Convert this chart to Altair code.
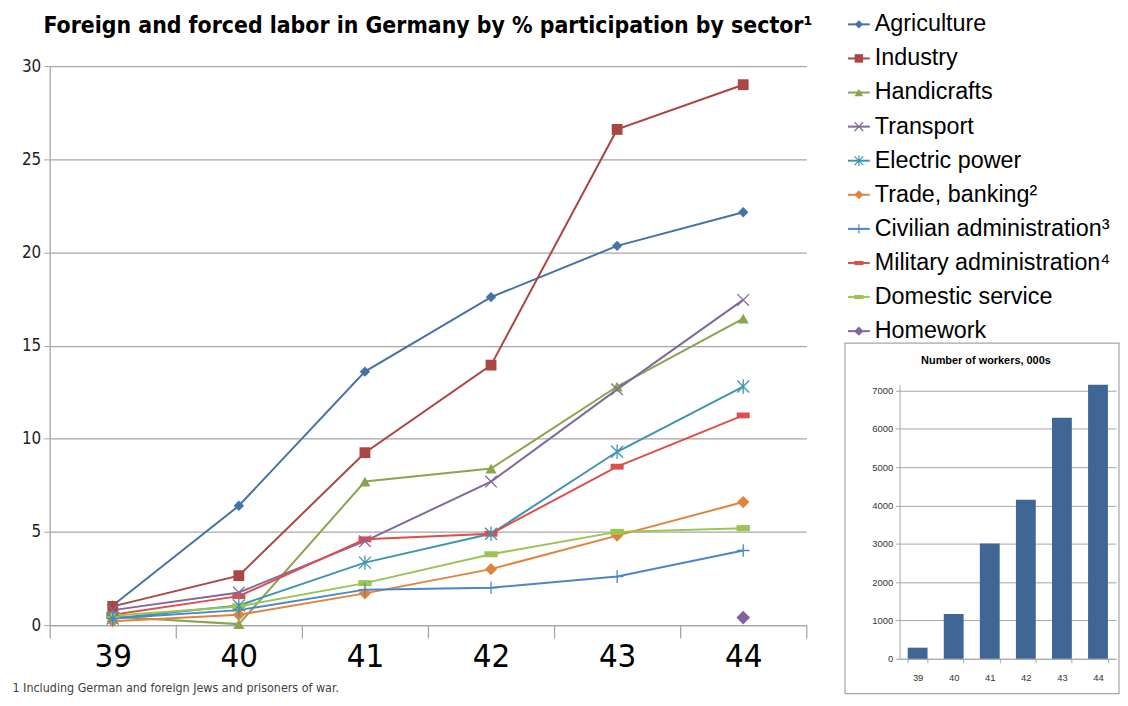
import altair as alt
import pandas as pd

NARROW = "Liberation Sans Narrow, Arial Narrow, DejaVu Sans Condensed, sans-serif"
SANS = "Liberation Sans, Arial, sans-serif"

years = ["39", "40", "41", "42", "43", "44"]
series = ["Agriculture", "Industry", "Handicrafts", "Transport", "Electric power",
          "Trade, banking", "Civilian administration", "Military administration",
          "Domestic service", "Homework"]
legend_labels = ["Agriculture", "Industry", "Handicrafts", "Transport", "Electric power",
                 "Trade, banking²", "Civilian administration³", "Military administration⁴",
                 "Domestic service", "Homework"]

agriculture = [1.05, 6.4, 13.6, 17.6, 20.35, 22.15]
industry = [1.0, 2.65, 9.25, 13.95, 26.6, 29.0]
handicrafts = [0.45, 0.05, 7.7, 8.4, 12.8, 16.45]
transport = [0.8, 1.75, 4.5, 7.7, 12.65, 17.45]
electric_power = [0.35, 1.05, 3.35, 4.9, 9.3, 12.8]
trade_banking = [0.2, 0.55, 1.7, 3.0, 4.8, 6.6]
civilian_admin = [0.35, 0.8, 1.9, 2.0, 2.6, 4.0]
military_admin = [0.55, 1.55, 4.6, 4.9, 8.5, 11.25]
domestic_service = [0.5, 1.0, 2.25, 3.8, 5.0, 5.2]
homework = [None, None, None, None, None, 0.4]

workers = [290, 1170, 3010, 4150, 6290, 7150]

footnote = "1 Including German and foreign Jews and prisoners of war."
title = "Foreign and forced labor in Germany by % participation by sector¹"
inset_title = "Number of workers, 000s"

# styles
colors = ["#4572A7", "#AA4643", "#89A54E", "#80699B", "#3D96AE",
          "#E0843D", "#4A86CC", "#D9504D", "#9BC450", "#8064A2"]
XPATH = "M-1,-1L1,1M-1,1L1,-1"
ASTER = "M-1,-1L1,1M-1,1L1,-1M0,-1.2L0,1.2"
PLUS = "M-1,0L1,0M0,-1L0,1"
DASH = "M-1,-0.45L1,-0.45L1,0.45L-1,0.45Z"
shapes = ["diamond", "square", "triangle-up", XPATH, ASTER,
          "diamond", PLUS, DASH, DASH, "diamond"]
sizes = [110, 190, 150, 120, 70, 45, 90, 75, 55, 40]
legend_sizes = [70, 90, 90, 110, 55, 40, 80, 55, 45, 40]
filled_series = ["Agriculture", "Industry", "Handicrafts", "Trade, banking",
                 "Military administration", "Domestic service", "Homework"]
stroked_series = ["Transport", "Electric power", "Civilian administration"]

all_values = [agriculture, industry, handicrafts, transport, electric_power,
              trade_banking, civilian_admin, military_admin, domestic_service, homework]

rows = []
for name, vals in zip(series, all_values):
    for yr, v in zip(years, vals):
        if v is not None:
            rows.append({"series": name, "year": yr, "value": v})
df = pd.DataFrame(rows)

color_enc = alt.Color("series:N", scale=alt.Scale(domain=series, range=colors), legend=None)
shape_enc = alt.Shape("series:N", scale=alt.Scale(domain=series, range=shapes), legend=None)
size_enc = alt.Size("series:O", sort=series, scale=alt.Scale(domain=series, range=sizes), legend=None)
leg_size_enc = alt.Size("lseries:O", sort=series,
                        scale=alt.Scale(domain=series, range=legend_sizes), legend=None)

GRID = "#a6a6a6"

# ---------------- main line chart ----------------
x_enc = alt.X(
    "year:O",
    sort=years,
    scale=alt.Scale(type="band", paddingInner=0, paddingOuter=0),
    axis=alt.Axis(
        tickBand="extent", labelFontSize=33, labelFont=NARROW, labelColor="black",
        labelAngle=0, tickSize=13, tickColor=GRID, domainColor=GRID, domainWidth=1.3,
        tickWidth=1.3, labelPadding=3, grid=False,
        title=footnote, titleX=-38, titleY=63, titleAlign="left", titleBaseline="middle",
        titleFontSize=12.5, titleFont=NARROW, titleFontWeight="normal", titleColor="#404040",
        titleAngle=0,
    ),
)
y_enc = alt.Y(
    "value:Q",
    scale=alt.Scale(domain=[0, 30], nice=False),
    axis=alt.Axis(
        values=[0, 5, 10, 15, 20, 25, 30], labelFontSize=17, labelFont=NARROW,
        labelColor="#222222", tickSize=6, tickColor=GRID, domainColor=GRID, domainWidth=1.3,
        gridColor=GRID, gridWidth=1.3, labelPadding=3, title=None,
    ),
)

base = alt.Chart(df)
lines = base.mark_line(strokeWidth=2).encode(x=x_enc, y=y_enc, color=color_enc)
pts_filled = base.transform_filter(
    alt.FieldOneOfPredicate(field="series", oneOf=filled_series)
).mark_point(filled=True, opacity=1, strokeWidth=0).encode(
    x=x_enc, y=y_enc, color=color_enc, shape=shape_enc, size=size_enc)
pts_stroked = base.transform_filter(
    alt.FieldOneOfPredicate(field="series", oneOf=stroked_series)
).mark_point(filled=False, opacity=1, strokeWidth=1.3).encode(
    x=x_enc, y=y_enc, color=color_enc, shape=shape_enc, size=size_enc)

main = alt.layer(lines, pts_filled, pts_stroked).properties(
    width=762, height=563,
    title=alt.TitleParams(title, fontSize=23, font=NARROW, fontWeight="bold",
                          color="black", anchor="middle", offset=19),
)

# ---------------- right panel: legend + inset bars ----------------
RH = 563 + 34          # panel height (same top as the main plot)
BAR_TOP = 321          # pixel of the inset's top (7150) inside the panel

leg_df = pd.DataFrame({"series": series, "lseries": series, "label": legend_labels})
y_leg = alt.Y("series:N", sort=series,
              scale=alt.Scale(type="point", range=[-42, 267], padding=0), axis=None)
leg_base = alt.Chart(leg_df)
leg_rule = leg_base.mark_rule(strokeWidth=2).encode(
    x=alt.value(-52), x2=alt.value(-30), y=y_leg, color=color_enc)
leg_pf = leg_base.transform_filter(
    alt.FieldOneOfPredicate(field="series", oneOf=filled_series)
).mark_point(filled=True, opacity=1, strokeWidth=0).encode(
    x=alt.value(-41), y=y_leg, color=color_enc, shape=shape_enc, size=leg_size_enc)
leg_ps = leg_base.transform_filter(
    alt.FieldOneOfPredicate(field="series", oneOf=stroked_series)
).mark_point(filled=False, opacity=1, strokeWidth=1.2).encode(
    x=alt.value(-41), y=y_leg, color=color_enc, shape=shape_enc, size=leg_size_enc)
leg_text = leg_base.mark_text(align="left", baseline="middle", fontSize=23.5, font=SANS,
                              color="black").encode(
    x=alt.value(-25), y=y_leg, text="label:N")
legend_layer = alt.layer(leg_rule, leg_pf, leg_ps, leg_text).resolve_scale(size="independent")

wdf = pd.DataFrame({"year": years, "workers": workers})
bars = alt.Chart(wdf).mark_bar(color="#406695").encode(
    x=alt.X("year:O", sort=years,
            scale=alt.Scale(type="band", paddingInner=0.45, paddingOuter=0.225),
            axis=alt.Axis(tickBand="extent", labelFontSize=9.5, labelFont=SANS,
                          labelColor="#333333", labelAngle=0, tickSize=4, tickColor=GRID,
                          domainColor=GRID, labelPadding=10, grid=False, title=None)),
    y=alt.Y("workers:Q",
            scale=alt.Scale(domain=[0, 7150], nice=False, range=[RH, BAR_TOP]),
            axis=alt.Axis(values=[0, 1000, 2000, 3000, 4000, 5000, 6000, 7000], format="d",
                          labelFontSize=9.5, labelFont=SANS, labelColor="#333333",
                          tickSize=4, tickColor=GRID, domainColor=GRID, gridColor=GRID,
                          labelPadding=3, title=None)),
)
frame = alt.Chart(pd.DataFrame({"k": [0]})).mark_rect(
    fillOpacity=0, stroke="#a6a6a6", strokeWidth=1.2).encode(
    x=alt.value(-55), x2=alt.value(221), y=alt.value(BAR_TOP - 42), y2=alt.value(BAR_TOP + 311))
inset_title_layer = alt.Chart(pd.DataFrame({"t": [inset_title]})).mark_text(
    fontSize=11, font=SANS, fontWeight="bold", color="black", align="center",
    baseline="middle").encode(
    text="t:N", x=alt.value(87), y=alt.value(BAR_TOP - 24))

right = alt.layer(frame, bars, inset_title_layer, legend_layer).resolve_scale(
    y="independent"
).properties(width=218, height=RH)

chart = alt.hconcat(main, right, spacing=31).resolve_scale(
    x="independent", y="independent"
).properties(
    padding={"left": 4, "top": 2, "right": 0, "bottom": 0}
).configure_view(strokeWidth=0)

chart.save("out.html", embed_options={"renderer": "svg", "actions": False})
